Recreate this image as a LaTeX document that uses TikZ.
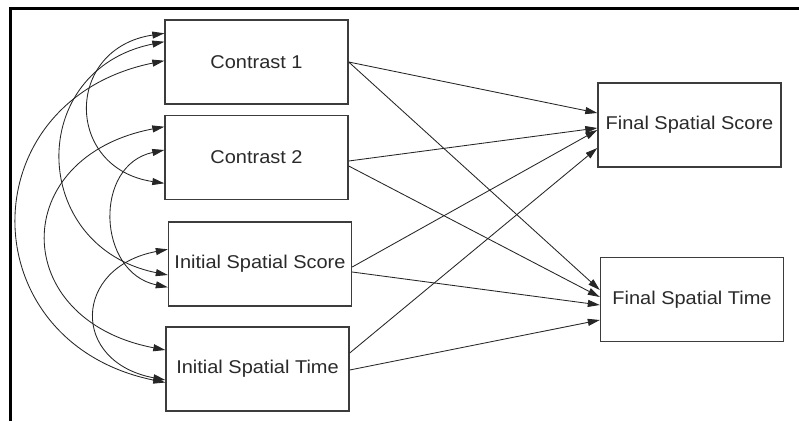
\documentclass[tikz,border=0pt]{standalone}
\usepackage{fontspec}
\setmainfont{Liberation Sans}[FakeStretch=1.08]
\usetikzlibrary{arrows.meta}
\definecolor{boxgray}{HTML}{3C3C3C}
\definecolor{linegray}{HTML}{262626}
\definecolor{txtgray}{HTML}{2A2A2A}
\begin{document}
\begin{tikzpicture}[x=1pt,y=-1pt,
  box/.style={draw=boxgray, line width=1.4pt, minimum width=183pt, minimum height=84pt,
    inner sep=0pt, font=\fontsize{18.5}{22}\selectfont, text=txtgray},
  regpath/.style={draw=linegray, line width=0.85pt, -{Triangle[length=12pt,width=7pt]}},
  cov/.style={draw=linegray, line width=0.85pt,
    {Triangle[length=12pt,width=7pt]}-{Triangle[length=12pt,width=7pt]}},
  frame/.style={draw=black, line width=3pt, line join=miter}
]
\useasboundingbox (0,0) rectangle (799,421);
\fill[white] (0,0) rectangle (799,421);

% frame
\draw[frame] (10.5,421) -- (10.5,8) -- (799,8);

% boxes
\node[box] (c1)  at (256.5,62)  {Contrast 1};
\node[box] (c2)  at (256.5,157.5) {Contrast 2};
\node[box] (iss) at (260,264)   {Initial Spatial Score};
\node[box] (ist) at (257.5,369) {Initial Spatial Time};
\node[box] (fss) at (689.5,125) {Final Spatial Score};
\node[box] (fst) at (692,299.5) {Final Spatial Time};

% regression paths
\draw[regpath] (c1.east) -- ([yshift=12pt]fss.west);
\draw[regpath] (c1.east) -- ([yshift=9.5pt]fst.west);
\draw[regpath] ([yshift=-3.5pt]c2.east) -- ([yshift=-3pt]fss.west);
\draw[regpath] ([yshift=-8.5pt]c2.east) -- ([yshift=2.5pt]fst.west);
\draw[regpath] ([yshift=-3pt]iss.east) -- ([yshift=-5pt]fss.west);
\draw[regpath] ([yshift=-8pt]iss.east) -- ([yshift=-5.5pt]fst.west);
\draw[regpath] ([yshift=16pt]ist.east) -- ([yshift=-23pt]fss.west);
\draw[regpath] ([yshift=-1pt]ist.east) -- ([yshift=-20.5pt]fst.west);

% covariances
\draw[cov] ([yshift=28.7pt]c1.west) .. controls +(-100,15) and +(-100,-15) .. ([yshift=-25.8pt]c2.west);
\draw[cov] ([yshift=20.3pt]c1.west) .. controls +(-139,28) and +(-139,-28) .. ([yshift=-11pt]iss.west);
\draw[cov] ([yshift=1.3pt]c1.west) .. controls +(-196,40) and +(-196,-40) .. ([yshift=-13.5pt]ist.west);
\draw[cov] ([yshift=30.8pt]c2.west) .. controls +(-157,30) and +(-157,-30) .. ([yshift=19pt]ist.west);
\draw[cov] ([yshift=7.5pt]c2.west) .. controls +(-71,15) and +(-71,-15) .. ([yshift=-23.3pt]iss.west);
\draw[cov] ([yshift=14.7pt]iss.west) .. controls +(-95,18) and +(-95,-18) .. ([yshift=-11pt]ist.west);
\end{tikzpicture}
\end{document}
